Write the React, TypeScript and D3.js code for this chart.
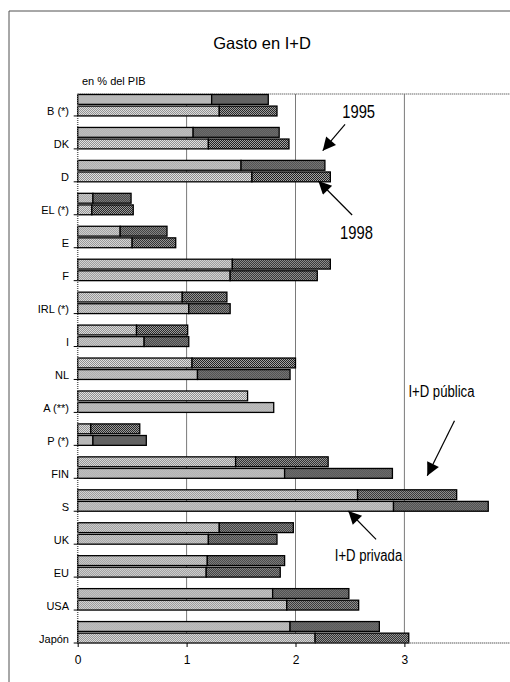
import { useEffect, useRef } from "react";
import * as d3 from "d3";

// Gasto en I+D (% del PIB): private / public split, 1995 vs 1998
const countries = ["B (*)", "DK", "D", "EL (*)", "E", "F", "IRL (*)", "I", "NL", "A (**)", "P (*)", "FIN", "S", "UK", "EU", "USA", "Japón"];
const years = ["1995", "1998"];

const private1995 = [1.23, 1.06, 1.50, 0.14, 0.39, 1.42, 0.96, 0.54, 1.05, 1.56, 0.12, 1.45, 2.57, 1.30, 1.19, 1.79, 1.95];
const public1995 = [0.52, 0.79, 0.77, 0.35, 0.43, 0.90, 0.41, 0.47, 0.95, 0, 0.45, 0.85, 0.91, 0.68, 0.71, 0.70, 0.82];
const private1998 = [1.30, 1.20, 1.60, 0.13, 0.50, 1.40, 1.02, 0.61, 1.10, 1.80, 0.14, 1.90, 2.90, 1.20, 1.18, 1.92, 2.18];
const public1998 = [0.53, 0.74, 0.72, 0.38, 0.40, 0.80, 0.38, 0.41, 0.85, 0, 0.49, 0.99, 0.87, 0.63, 0.68, 0.66, 0.86];

const xTicks = [0, 1, 2, 3];

const FONT = "'Liberation Sans', Arial, sans-serif";

export default function App() {
	const ref = useRef<SVGSVGElement>(null);

	useEffect(() => {
		const svg = d3.select(ref.current);
		svg.selectAll("*").remove();

		const plotTop = 94;
		const plotBottom = 643;

		const x = d3.scaleLinear().domain([0, 4]).range([77.7, 513.3]);
		const y = d3.scaleBand<string>().domain(countries).range([83, plotBottom]);
		const yInner = d3.scaleBand<string>().domain(years).range([11.5, y.bandwidth()]).paddingInner(0.15);

		// hatch patterns
		const defs = svg.append("defs");
		const light = defs.append("pattern").attr("id", "pLight")
			.attr("width", 2).attr("height", 2).attr("patternUnits", "userSpaceOnUse");
		light.append("rect").attr("width", 2).attr("height", 2).attr("fill", "#e4e4e4");
		light.append("rect").attr("width", 1).attr("height", 1).attr("fill", "#8c8c8c");
		light.append("rect").attr("x", 1).attr("y", 1).attr("width", 1).attr("height", 1).attr("fill", "#8c8c8c");

		const dark = defs.append("pattern").attr("id", "pDark")
			.attr("width", 2).attr("height", 2).attr("patternUnits", "userSpaceOnUse");
		dark.append("rect").attr("width", 2).attr("height", 2).attr("fill", "#a8a8a8");
		dark.append("rect").attr("width", 1).attr("height", 1).attr("fill", "#1e1e1e");
		dark.append("rect").attr("x", 1).attr("y", 1).attr("width", 1).attr("height", 1).attr("fill", "#1e1e1e");

		defs.append("marker").attr("id", "arrow")
			.attr("viewBox", "0 0 10 10").attr("refX", 10).attr("refY", 5)
			.attr("markerWidth", 15).attr("markerHeight", 13)
			.attr("markerUnits", "userSpaceOnUse").attr("orient", "auto")
			.append("path").attr("d", "M0,0 L10,5 L0,10 Z").attr("fill", "#000");

		// outer frame (only left and top visible)
		svg.append("path").attr("d", "M9,682 L9,11 L510,11")
			.attr("fill", "none").attr("stroke", "#505050").attr("stroke-width", 1);

		// title
		svg.append("text").attr("x", 262).attr("y", 48.5)
			.attr("text-anchor", "middle").attr("font-family", FONT).attr("font-size", 16.5)
			.text("Gasto en I+D");

		svg.append("text").attr("x", 82).attr("y", 85)
			.attr("font-family", FONT).attr("font-size", 11)
			.text("en % del PIB");

		// gridlines
		svg.append("g").selectAll("line").data(xTicks.filter(d => d > 0)).join("line")
			.attr("x1", d => x(d)).attr("x2", d => x(d))
			.attr("y1", plotTop).attr("y2", plotBottom)
			.attr("stroke", "#7a7a7a").attr("stroke-width", 1);

		// plot top border (dotted)
		svg.append("line").attr("x1", x(0)).attr("x2", 510).attr("y1", plotTop).attr("y2", plotTop)
			.attr("stroke", "#707070").attr("stroke-width", 1.5).attr("stroke-dasharray", "1,1");

		// bars
		const rows = countries.map((c, i) => ({
			c,
			bars: [
				{ year: "1995", priv: private1995[i], pub: public1995[i] },
				{ year: "1998", priv: private1998[i], pub: public1998[i] },
			],
		}));

		const groups = svg.append("g").selectAll("g").data(rows).join("g")
			.attr("transform", d => `translate(0,${y(d.c)})`);

		const bar = groups.selectAll("g").data(d => d.bars).join("g")
			.attr("transform", d => `translate(0,${yInner(d.year)})`);

		bar.append("rect")
			.attr("x", x(0)).attr("width", d => x(d.priv) - x(0))
			.attr("height", yInner.bandwidth())
			.attr("fill", "url(#pLight)").attr("stroke", "#000").attr("stroke-width", 1.3);

		bar.filter(d => d.pub > 0).append("rect")
			.attr("x", d => x(d.priv)).attr("width", d => x(d.priv + d.pub) - x(d.priv))
			.attr("height", yInner.bandwidth())
			.attr("fill", "url(#pDark)").attr("stroke", "#000").attr("stroke-width", 1.3);

		// left axis (dotted) + ticks between categories
		svg.append("line").attr("x1", x(0)).attr("x2", x(0)).attr("y1", plotTop).attr("y2", plotBottom)
			.attr("stroke", "#606060").attr("stroke-width", 1.5).attr("stroke-dasharray", "1,1");

		svg.append("g").selectAll("line").data(countries).join("line")
			.attr("x1", x(0) - 4).attr("x2", x(0))
			.attr("y1", d => y(d)! + y.bandwidth()).attr("y2", d => y(d)! + y.bandwidth())
			.attr("stroke", "#000");

		svg.append("g").selectAll("text").data(countries).join("text")
			.attr("x", 69).attr("y", d => y(d)! + y.bandwidth() - 0.5)
			.attr("text-anchor", "end").attr("font-family", FONT).attr("font-size", 11)
			.text(d => d);

		// bottom axis
		svg.append("line").attr("x1", x(0)).attr("x2", 510).attr("y1", plotBottom).attr("y2", plotBottom)
			.attr("stroke", "#606060").attr("stroke-width", 1.5).attr("stroke-dasharray", "1,1");

		const xAxis = svg.append("g").attr("transform", `translate(0,${plotBottom})`)
			.call(d3.axisBottom(x).tickValues(xTicks).tickSize(4).tickFormat(d3.format("d")));
		xAxis.select(".domain").remove();
		xAxis.selectAll("text").attr("font-family", FONT).attr("font-size", 12).attr("fill", "#000").attr("dy", "1.2em");

		// annotations
		const notes = [
			{ text: "1995", tx: 2.58, ty: 111.7, size: 18, from: [2.455, 124.3], to: [2.25, 150.7] },
			{ text: "1998", tx: 2.56, ty: 232.7, size: 18, from: [2.52, 215], to: [2.21, 181] },
			{ text: "I+D pública", tx: 3.34, ty: 391.7, size: 16, from: [3.46, 420.7], to: [3.21, 475.7] },
			{ text: "I+D privada", tx: 2.67, ty: 555.7, size: 16, from: [2.74, 539.3], to: [2.485, 511] },
		];

		notes.forEach(n => {
			svg.append("text")
				.attr("transform", `translate(${x(n.tx)},${n.ty}) scale(0.82,1)`)
				.attr("text-anchor", "middle").attr("dominant-baseline", "central")
				.attr("font-family", FONT).attr("font-size", n.size)
				.text(n.text);
			svg.append("line")
				.attr("x1", x(n.from[0])).attr("y1", n.from[1])
				.attr("x2", x(n.to[0])).attr("y2", n.to[1])
				.attr("stroke", "#000").attr("stroke-width", 1.2)
				.attr("marker-end", "url(#arrow)");
		});
	}, []);

	return (
		<svg ref={ref} width={510} height={682}
			style={{ position: "absolute", left: 0, top: 0, background: "#fff" }} />
	);
}
